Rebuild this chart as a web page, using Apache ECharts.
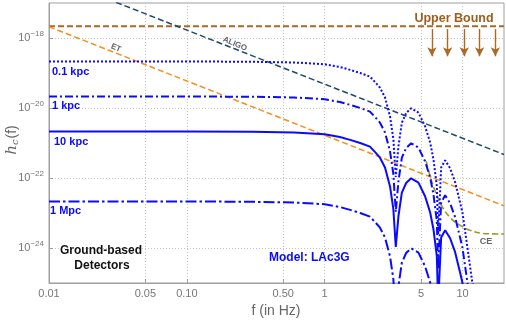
<!DOCTYPE html>
<html>
<head>
<meta charset="utf-8">
<script src="https://cdn.jsdelivr.net/npm/echarts@6/dist/echarts.min.js"></script>
<style>html,body{margin:0;padding:0;background:#fff;}</style>
</head>
<body>
<div id="main" style="width:506px;height:322px;"></div>
<script>
// axis ticks
const xTicks = [0.01, 0.05, 0.1, 0.5, 1, 5, 10];
const xTickLabels = ['0.01', '0.05', '0.10', '0.50', '1', '5', '10'];
const yTicks = [-24, -22, -20, -18]; // powers of ten

// LAc3G model, frequency in Hz
const modelFreq = [0.01, 0.03, 0.1, 0.3, 0.6, 1.0, 1.29, 1.53, 1.81, 2.13, 2.35, 2.52, 2.74, 2.98, 3.15, 3.28, 3.43, 3.63, 3.90, 4.24, 4.79, 5.35, 5.82, 6.15, 6.51, 6.66, 7.00, 7.48, 8.13, 8.84, 9.6, 10.0, 10.6, 11.7, 13.0];
const h01kpc = [2.14e-19, 2.14e-19, 2.14e-19, 2.09e-19, 2.0e-19, 1.78e-19, 1.48e-19, 1.23e-19, 1.0e-19, 7.9e-20, 5.2e-20, 3.8e-20, 2.0e-20, 5.75e-21, 1.29e-21, 1.07e-22, 8.1e-22, 3.8e-21, 7.2e-21, 9.8e-21, 7.4e-21, 3.0e-21, 1.05e-21, 3.5e-22, 6.0e-23, 2.5e-24, 2.0e-22, 3.2e-22, 1.9e-22, 7.6e-23, 2.0e-23, 1.0e-23, 2.0e-24, 1.26e-25, 1.0e-26];
const h1kpc = [2.14e-20, 2.14e-20, 2.14e-20, 2.09e-20, 2.0e-20, 1.78e-20, 1.48e-20, 1.23e-20, 1.0e-20, 7.9e-21, 5.2e-21, 3.8e-21, 2.0e-21, 5.75e-22, 1.29e-22, 1.07e-23, 8.1e-23, 3.8e-22, 7.2e-22, 9.8e-22, 7.4e-22, 3.0e-22, 1.05e-22, 3.5e-23, 6.0e-24, 2.5e-25, 2.0e-23, 3.2e-23, 1.9e-23, 7.6e-24, 2.0e-24, 1.0e-24, 2.0e-25, 1.26e-26, 1.0e-27];
const h10kpc = [2.14e-21, 2.14e-21, 2.14e-21, 2.09e-21, 2.0e-21, 1.78e-21, 1.48e-21, 1.23e-21, 1.0e-21, 7.9e-22, 5.2e-22, 3.8e-22, 2.0e-22, 5.75e-23, 1.29e-23, 1.07e-24, 8.1e-24, 3.8e-23, 7.2e-23, 9.8e-23, 7.4e-23, 3.0e-23, 1.05e-23, 3.5e-24, 6.0e-25, 2.5e-26, 2.0e-24, 3.2e-24, 1.9e-24, 7.6e-25, 2.0e-25, 1.0e-25, 2.0e-26, 1.26e-27, 1.0e-28];
const h1Mpc = [2.14e-23, 2.14e-23, 2.14e-23, 2.09e-23, 2.0e-23, 1.78e-23, 1.48e-23, 1.23e-23, 1.0e-23, 7.9e-24, 5.2e-24, 3.8e-24, 2.0e-24, 5.75e-25, 1.29e-25, 1.07e-26, 8.1e-26, 3.8e-25, 7.2e-25, 9.8e-25, 7.4e-25, 3.0e-25, 1.05e-25, 3.5e-26, 6.0e-27, 2.5e-28, 2.0e-26, 3.2e-26, 1.9e-26, 7.6e-27, 2.0e-27, 1.0e-27, 2.0e-28, 1.26e-29, 1.0e-30];

// detectors
const aligoFreq = [0.01, 20];
const aligoH = [5.9e-17, 4.7e-22];
const etFreq = [0.01, 20];
const etH = [2.1e-18, 1.6e-23];
const ceFreq = [5.45, 5.82, 6.33, 7.08, 8.13, 9.34, 11.35, 14.2, 20];
const ceH = [3.0e-22, 1.12e-22, 4.2e-23, 1.58e-23, 7.4e-24, 4.8e-24, 3.2e-24, 2.6e-24, 2.5e-24];

// upper bound
const boundFreq = [0.01, 20];
const boundH = [2.15e-18, 2.15e-18];
const arrowFreq = [6.0, 7.8, 10.3, 13.3, 17.3];
const arrowFrom = 1.8e-18;
const arrowTo = 3.0e-19;

const L = Math.log10;
const pts = (fs, hs) => fs.map((f, i) => [L(f), L(hs[i])]);

const blue = '#0a0aff';
const brown = '#a86a26';
const font = 'Liberation Sans, Arial, sans-serif';

function curve(data, color, width, type, smooth) {
    return {
        type: 'line', data: data, symbol: 'none', smooth: smooth || false,
        clip: true, silent: true,
        lineStyle: {color: color, width: width, type: type, cap: 'butt'}
    };
}

function label(text, x, y, opts) {
    return {
        type: 'text', x: x, y: y, rotation: opts.rotation || 0, z: 100,
        style: Object.assign({
            text: text, fontFamily: font, fontSize: 11, fontWeight: 'bold',
            fill: blue, align: 'left', verticalAlign: 'middle'
        }, opts.style || {})
    };
}

const myChart = echarts.init(document.getElementById('main'));

const boundSeries = curve(pts(boundFreq, boundH), brown, 2, [6, 3]);
boundSeries.markLine = {
    silent: true, animation: false,
    symbol: ['none', 'arrow'], symbolSize: [7, 9],
    label: {show: false},
    lineStyle: {color: brown, width: 1.4, type: 'solid'},
    data: arrowFreq.map(f => [{coord: [L(f), L(arrowFrom)]}, {coord: [L(f), L(arrowTo)]}])
};

const option = {
    animation: false,
    grid: {left: 49, right: 2, top: 3, bottom: 39, show: true, borderColor: '#a0a0a0', borderWidth: 1},
    xAxis: {
        type: 'value', min: L(0.01), max: L(20),
        axisLine: {onZero: false, lineStyle: {color: '#a0a0a0'}},
        axisTick: {inside: true, length: 4, customValues: xTicks.map(L), lineStyle: {color: '#a0a0a0'}},
        axisLabel: {
            customValues: xTicks.map(L), color: '#777', fontSize: 11, fontFamily: font, margin: 5,
            formatter: v => {
                const i = xTicks.findIndex(t => Math.abs(L(t) - v) < 1e-6);
                return i >= 0 ? xTickLabels[i] : '';
            }
        },
        splitLine: {show: true, lineStyle: {color: '#c4c4c4', type: [1, 2]}}
    },
    yAxis: {
        type: 'value', min: -25, max: -17,
        axisLine: {onZero: false, lineStyle: {color: '#a0a0a0'}},
        axisTick: {inside: true, length: 4, customValues: yTicks, lineStyle: {color: '#a0a0a0'}},
        axisLabel: {
            customValues: yTicks, margin: 5,
            formatter: v => '{b|10}{e|\u2212' + Math.abs(v) + '}',
            rich: {
                b: {fontSize: 11, color: '#777', fontFamily: font},
                e: {fontSize: 8, color: '#777', fontFamily: font, padding: [0, 0, 9, 0]}
            }
        },
        splitLine: {show: true, lineStyle: {color: '#c4c4c4', type: [1, 2]}}
    },
    series: [
        boundSeries,
        curve(pts(aligoFreq, aligoH), '#1d4a6b', 1.5, [6, 3]),
        curve(pts(etFreq, etH), '#f78e1e', 1.5, [6, 3]),
        curve(pts(ceFreq, ceH), '#9a9a1e', 1.6, [6, 3], 0.4),
        curve(pts(modelFreq, h01kpc), blue, 2, [2, 2]),
        curve(pts(modelFreq, h1kpc), blue, 2, [8, 3, 2, 3]),
        curve(pts(modelFreq, h10kpc), blue, 2, 'solid'),
        curve(pts(modelFreq, h1Mpc), blue, 2, [11, 3, 2.5, 3])
    ],
    graphic: [
        label('0.1 kpc', 52, 72, {}),
        label('1 kpc', 52, 106, {}),
        label('10 kpc', 54, 142, {}),
        label('1 Mpc', 50, 211, {}),
        label('Model: LAc3G', 269, 258, {style: {fontSize: 12}}),
        label('Ground-based', 101, 251, {style: {fontSize: 12, fill: '#111', align: 'center'}}),
        label('Detectors', 102, 266, {style: {fontSize: 12, fill: '#111', align: 'center'}}),
        label('Upper Bound', 454, 19, {style: {fontSize: 12.5, fill: '#9c5f1c', align: 'center'}}),
        label('ALIGO', 235, 44, {rotation: -0.4, style: {fontSize: 8, fill: '#666', align: 'center'}}),
        label('ET', 116, 48, {rotation: -0.39, style: {fontSize: 8, fill: '#666', align: 'center'}}),
        label('CE', 486, 242, {style: {fontSize: 9, fill: '#666', align: 'center'}}),
        label('f (in Hz)', 276, 311, {style: {fontSize: 14, fontWeight: 'normal', fill: '#666', align: 'center'}}),
        {
            type: 'text', x: 12, y: 140, rotation: Math.PI / 2,
            style: {
                text: '{i|h}{s|c}{n|(f)}', align: 'center', verticalAlign: 'middle',
                rich: {
                    i: {fontSize: 15, fontStyle: 'italic', fill: '#666', fontFamily: 'DejaVu Serif, serif'},
                    s: {fontSize: 10, fontStyle: 'italic', fill: '#666', fontFamily: 'DejaVu Serif, serif', padding: [6, 1, 0, 0]},
                    n: {fontSize: 14, fill: '#666', fontFamily: font}
                }
            }
        }
    ]
};

myChart.setOption(option);
</script>
</body>
</html>
